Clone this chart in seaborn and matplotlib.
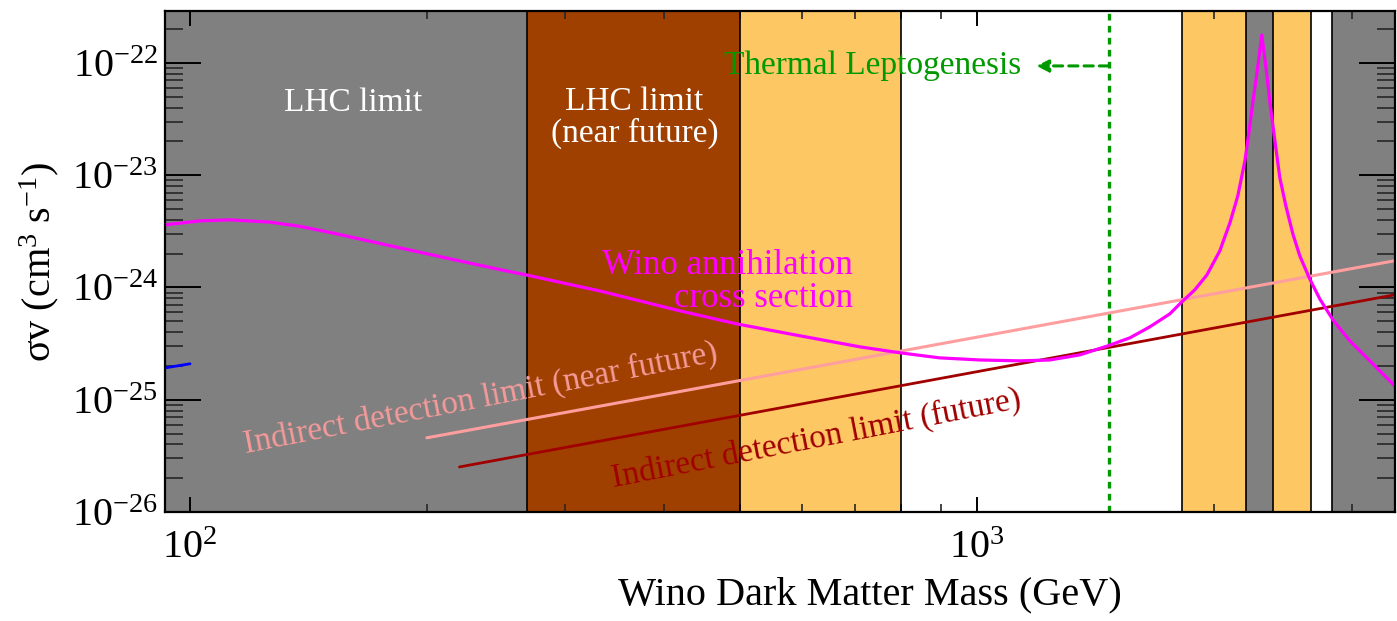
import numpy as np
import pandas as pd
import matplotlib
matplotlib.use("Agg")
import matplotlib.pyplot as plt
import seaborn as sns

# ---------------- data ----------------
wino_mass = [92.9, 103, 112.4, 126.4, 138, 152, 185, 214, 248, 268, 332, 419, 495, 596,
             710, 798, 897, 1009, 1134, 1238, 1352, 1467, 1565, 1659, 1759, 1822, 1892,
             1960, 2036, 2097, 2146, 2191, 2223, 2243, 2276, 2302, 2329, 2357, 2392, 2427,
             2470, 2521, 2573, 2649, 2728, 2835, 2978, 3131, 3251, 3397]
wino_sigma = [3.61e-24, 3.92e-24, 4.0e-24, 3.82e-24, 3.5e-24, 3.05e-24, 2.25e-24, 1.80e-24,
              1.44e-24, 1.29e-24, 9.3e-25, 6.2e-25, 4.74e-25, 3.71e-25, 2.96e-25, 2.62e-25,
              2.36e-25, 2.26e-25, 2.22e-25, 2.26e-25, 2.51e-25, 3.02e-25, 3.56e-25, 4.46e-25,
              5.82e-25, 7.45e-25, 9.52e-25, 1.29e-24, 2.12e-24, 3.76e-24, 6.54e-24, 1.34e-23,
              2.75e-23, 4.50e-23, 9.4e-23, 1.77e-22, 9.4e-23, 4.50e-23, 2.02e-23, 9.46e-24,
              5.33e-24, 3.0e-24, 1.91e-24, 1.19e-24, 7.9e-25, 5.14e-25, 3.35e-25, 2.36e-25,
              1.81e-25, 1.33e-25]

near_future_mass = [200, 3397]
near_future_sigma = [4.58e-26, 1.73e-24]

future_mass = [220, 3397]
future_sigma = [2.52e-26, 8.6e-25]

blue_mass = [92.9, 100]
blue_sigma = [1.92e-25, 2.09e-25]

band_start = [92.9, 268, 500, 1822, 2200, 2380, 2830]
band_end = [268, 500, 800, 2200, 2380, 2660, 3400]
band_color = ["#808080", "#A04000", "#FDC864", "#FDC864", "#808080", "#FDC864", "#808080"]
band_edges = [268, 500, 800, 1822, 2200, 2380, 2660, 2830]

leptogenesis_mass = 1470

x_major = [100, 1000]
y_major = [1e-26, 1e-25, 1e-24, 1e-23, 1e-22]

# ---------------- style ----------------
sns.set_theme(style="white")
plt.rcParams["font.family"] = ["Liberation Serif", "DejaVu Serif"]
plt.rcParams["mathtext.fontset"] = "custom"
plt.rcParams["mathtext.rm"] = "Liberation Serif"
plt.rcParams["mathtext.it"] = "Liberation Serif:italic"
plt.rcParams["mathtext.bf"] = "Liberation Serif:bold"
plt.rcParams["text.color"] = "black"
plt.rcParams["axes.labelcolor"] = "black"

fig = plt.figure(figsize=(13.97, 6.21), dpi=100)
ax = fig.add_axes([0.118, 0.1755, 0.8806, 0.8068])
ax.set_xscale("log")
ax.set_yscale("log")
ax.set_xlim(92.9, 3400)
ax.set_ylim(1e-26, 2.9e-22)

for s, e, c in zip(band_start, band_end, band_color):
    ax.axvspan(s, e, color=c, lw=0, zorder=0)
for x in band_edges:
    ax.axvline(x, color="black", lw=1.2, zorder=1)

green = "#009a00"
ax.axvline(leptogenesis_mass, color=green, lw=2.4, ls=(0, (2.0, 1.6)), zorder=2)

df_w = pd.DataFrame({"m": wino_mass, "s": wino_sigma})
sns.lineplot(data=df_w, x="m", y="s", ax=ax, color="#FF00FF", lw=2.3, sort=False,
             estimator=None, zorder=4)
sns.lineplot(x=near_future_mass, y=near_future_sigma, ax=ax, color="#FF9E9E", lw=2.2,
             estimator=None, zorder=3)
sns.lineplot(x=future_mass, y=future_sigma, ax=ax, color="#A00000", lw=2.0,
             estimator=None, zorder=3)
sns.lineplot(x=blue_mass, y=blue_sigma, ax=ax, color="#0000FF", lw=2.0,
             estimator=None, zorder=3)

# arrow + text for leptogenesis
ax.annotate("", xy=(1190, 9.4e-23), xytext=(leptogenesis_mass, 9.4e-23),
            arrowprops=dict(arrowstyle="-|>,head_length=0.6,head_width=0.3", color=green,
                            lw=2.2, ls=(0, (3, 2)), shrinkA=0, shrinkB=0), zorder=5)
ax.text(1140, 9.4e-23, "Thermal Leptogenesis", color=green, fontsize=24,
        ha="right", va="center", zorder=5)

ax.text(161, 4.4e-23, "LHC limit", color="white", fontsize=24, ha="center", va="center")
ax.text(367, 3.24e-23, "LHC limit\n(near future)", color="white", fontsize=24,
        ha="center", va="center", linespacing=1.0)
ax.text(696, 1.12e-24, "Wino annihilation\ncross section", color="#FF00FF", fontsize=25,
        ha="right", va="center", multialignment="right", linespacing=1.0)
ax.text(234, 1.02e-25, "Indirect detection limit (near future)", color="#F49A9A",
        fontsize=24, ha="center", va="center", rotation=11, rotation_mode="anchor")
ax.text(626, 4.5e-26, "Indirect detection limit (future)", color="#A00000",
        fontsize=24, ha="center", va="center", rotation=11, rotation_mode="anchor")

# ticks
ax.xaxis.set_major_locator(matplotlib.ticker.FixedLocator(x_major))
ax.xaxis.set_minor_locator(matplotlib.ticker.LogLocator(base=10, subs=np.arange(2, 10), numticks=10))
ax.xaxis.set_minor_formatter(matplotlib.ticker.NullFormatter())
ax.yaxis.set_major_locator(matplotlib.ticker.FixedLocator(y_major))
ax.yaxis.set_minor_locator(matplotlib.ticker.LogLocator(base=10, subs=np.arange(2, 10), numticks=10))
ax.yaxis.set_minor_formatter(matplotlib.ticker.NullFormatter())
ax.xaxis.set_major_formatter(matplotlib.ticker.LogFormatterMathtext())
ax.yaxis.set_major_formatter(matplotlib.ticker.LogFormatterMathtext())

ax.tick_params(axis="x", which="major", direction="in", length=11, width=1.4, top=True,
               bottom=True, labelsize=29, pad=13, colors="black")
ax.tick_params(axis="x", which="minor", direction="in", length=6, width=1.2, top=True,
               bottom=True)
ax.tick_params(axis="y", which="major", direction="in", length=26, width=1.4, left=True,
               right=True, labelsize=29, pad=5, colors="black")
ax.tick_params(axis="y", which="minor", direction="in", length=13, width=1.2, left=True,
               right=True)

for sp in ax.spines.values():
    sp.set_visible(True)
    sp.set_color("black")
    sp.set_linewidth(1.6)
    sp.set_zorder(6)

ax.set_xlabel("Wino Dark Matter Mass (GeV)", fontsize=29, labelpad=14)
ax.xaxis.set_label_coords(0.573, -0.165)
ax.xaxis.label.set_va("center")
ax.set_ylabel(r"σv (cm$^{3}$ s$^{-1}$)", fontsize=29, labelpad=8)

fig.savefig("out.png", dpi=100, facecolor="white")
